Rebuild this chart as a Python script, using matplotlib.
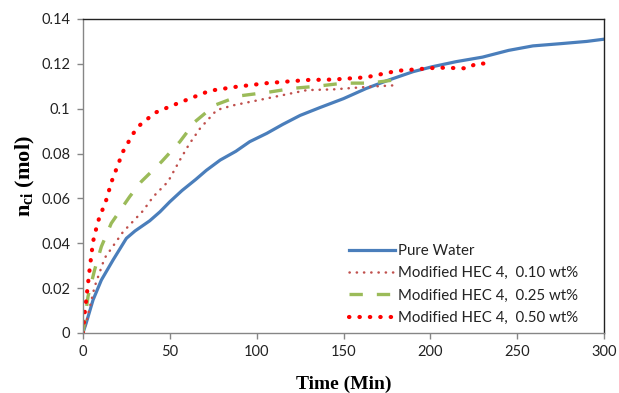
import matplotlib
matplotlib.use("Agg")
import matplotlib.pyplot as plt

plt.rcParams["mathtext.fontset"] = "custom"
plt.rcParams["mathtext.bf"] = "Liberation Serif:bold"
plt.rcParams["mathtext.rm"] = "Liberation Serif"

# time (min) and n_ci (mol)
water_t = [0, 1.9, 5.8, 10.6, 17.3, 25, 30, 38.4, 44.3, 50, 57, 65, 71, 79, 88, 96,
           105.8, 115, 125, 136.4, 150, 163, 175, 190, 201, 215, 230, 245, 259, 275,
           290, 300]
water_n = [0, 0.0045, 0.0147, 0.0236, 0.0325, 0.0422, 0.0455, 0.050, 0.054, 0.0585,
           0.0635, 0.0685, 0.0725, 0.0771, 0.081, 0.0853, 0.089, 0.093, 0.097, 0.1005,
           0.1045, 0.109, 0.1125, 0.1165, 0.1187, 0.121, 0.123, 0.126, 0.128, 0.129,
           0.130, 0.131]

hec10_t = [0, 2, 6.7, 12.5, 23, 34.5, 40.5, 49, 55.8, 61, 67.4, 77, 86.5, 106, 129,
           144, 163, 181]
hec10_n = [0, 0.005, 0.0206, 0.0334, 0.045, 0.0544, 0.0608, 0.0675, 0.0771, 0.084,
           0.0912, 0.0994, 0.1015, 0.1046, 0.1083, 0.1086, 0.1097, 0.1105]

hec25_t = [0, 2.9, 6.7, 10.6, 16.3, 26.9, 33.6, 45.3, 55.8, 64.5, 76, 90, 108, 121,
           134.5, 150, 165, 182]
hec25_n = [0, 0.0162, 0.0281, 0.0385, 0.0489, 0.0608, 0.0675, 0.0764, 0.0853, 0.0942,
           0.1016, 0.1057, 0.1075, 0.1091, 0.110, 0.1114, 0.1114, 0.1131]

hec50_t = [0, 1, 2.3, 3.8, 5.8, 8.6, 13.4, 16.5, 23, 29, 32.8, 41.5, 52, 73, 88.5,
           106, 129, 144, 163, 181, 204, 221, 227, 233]
hec50_n = [0, 0.0089, 0.0177, 0.0281, 0.0407, 0.0496, 0.0593, 0.0675, 0.0808, 0.089,
           0.0927, 0.0982, 0.1016, 0.108, 0.1098, 0.1114, 0.1128, 0.113, 0.114, 0.1169,
           0.1183, 0.118, 0.1203, 0.120]

labels = ["Pure Water", "Modified HEC 4,  0.10 wt%", "Modified HEC 4,  0.25 wt%",
          "Modified HEC 4,  0.50 wt%"]

fig = plt.figure(figsize=(6.19, 3.93), dpi=100)
ax = fig.add_axes([0.134, 0.1527, 0.842, 0.799])

ax.plot(water_t, water_n, color="#4A7EBB", lw=2.3, label=labels[0])
ax.plot(hec10_t, hec10_n, color="#C0504D", lw=1.8, linestyle=(0, (0.1, 2.8)),
        dash_capstyle="round", label=labels[1])
ax.plot(hec25_t, hec25_n, color="#9BBB59", lw=2.4, linestyle=(0, (4, 4.2)), label=labels[2])
ax.plot(hec50_t, hec50_n, color="#FF0000", lw=3.0, linestyle=(0, (0.1, 2.4)),
        dash_capstyle="round", label=labels[3])

ax.set_xlim(0, 300)
ax.set_ylim(0, 0.14)
ax.set_xticks([0, 50, 100, 150, 200, 250, 300])
ax.set_yticks([0, 0.02, 0.04, 0.06, 0.08, 0.1, 0.12, 0.14])
ax.set_yticklabels(["0", "0.02", "0.04", "0.06", "0.08", "0.1", "0.12", "0.14"])

for s in ["left", "bottom"]:
    ax.spines[s].set_color("#868686")
    ax.spines[s].set_linewidth(1.0)
for s in ["top", "right"]:
    ax.spines[s].set_color("#222222")
    ax.spines[s].set_linewidth(1.0)

ax.tick_params(direction="out", length=4, width=1, color="#868686",
               labelsize=10.5, labelcolor="#222222", pad=5)
for t in ax.get_xticklabels() + ax.get_yticklabels():
    t.set_family("Lato")

ax.set_xlabel("Time (Min)", family="Liberation Serif", fontweight="bold", fontsize=14,
              labelpad=12)
ax.set_ylabel(r"$\mathbf{n}_{\mathbf{ci}}$ (mol)", family="Liberation Serif",
              fontweight="bold", fontsize=16, labelpad=3)

leg = ax.legend(loc="lower right", bbox_to_anchor=(0.962, 0.006), frameon=False,
                prop={"family": "Lato", "size": 10.8}, handlelength=3.1,
                handletextpad=0.2, labelspacing=0.56, borderaxespad=0)
for txt in leg.get_texts():
    txt.set_color("#222222")

fig.savefig("out.png", dpi=100)
